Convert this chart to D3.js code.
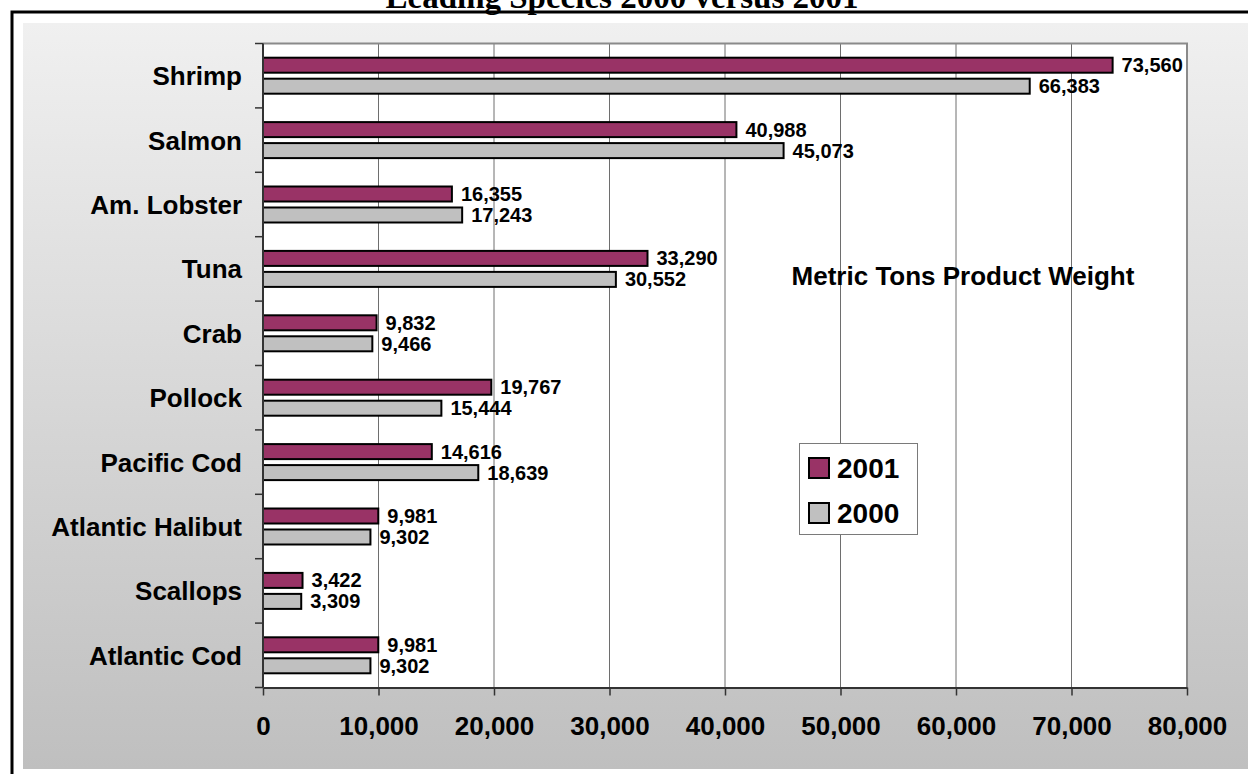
<!DOCTYPE html>
<html>
<head>
<meta charset="utf-8">
<script src="https://cdn.jsdelivr.net/npm/d3@7"></script>
<style>
  html, body { margin: 0; padding: 0; background: #ffffff; }
  svg { display: block; }
</style>
</head>
<body>
<svg id="chart" width="1248" height="774"></svg>
<script>
const categories = ["Shrimp", "Salmon", "Am. Lobster", "Tuna", "Crab", "Pollock", "Pacific Cod", "Atlantic Halibut", "Scallops", "Atlantic Cod"];
const series = ["2001", "2000"];
const values2001 = [73560, 40988, 16355, 33290, 9832, 19767, 14616, 9981, 3422, 9981];
const values2000 = [66383, 45073, 17243, 30552, 9466, 15444, 18639, 9302, 3309, 9302];
const xTicks = [0, 10000, 20000, 30000, 40000, 50000, 60000, 70000, 80000];
const titleText = "Leading Species 2000 versus 2001";
const noteText = "Metric Tons Product Weight";
const colors = { "2001": "#993366", "2000": "#c0c0c0" };

const svg = d3.select("#chart");
const sans = "'Liberation Sans', Arial, sans-serif";

// background gradient
const defs = svg.append("defs");
const grad = defs.append("linearGradient").attr("id", "bg").attr("x1", 0).attr("y1", 0).attr("x2", 0).attr("y2", 1);
grad.append("stop").attr("offset", "0%").attr("stop-color", "#f0f0f0");
grad.append("stop").attr("offset", "100%").attr("stop-color", "#bfbfbf");

// outer frame
svg.append("rect").attr("x", 12).attr("y", 12).attr("width", 1260).attr("height", 800)
  .attr("fill", "#ffffff").attr("stroke", "#000").attr("stroke-width", 3);
svg.append("rect").attr("x", 23).attr("y", 23).attr("width", 1240).attr("height", 746)
  .attr("fill", "url(#bg)");

// title (mostly cut off at the top, as in the reference)
svg.append("text").attr("x", 622).attr("y", 8).attr("text-anchor", "middle")
  .attr("font-family", "'Liberation Serif', 'Times New Roman', serif")
  .attr("font-weight", "bold").attr("font-size", 33).text(titleText);

const plot = { left: 263, right: 1187, top: 43.5, bottom: 687.5 };

const x = d3.scaleLinear().domain([0, 80000]).range([plot.left, plot.right]);
const y = d3.scaleBand().domain(categories).range([plot.top, plot.bottom])
  .paddingInner(0.41).paddingOuter(0.205);
const ySub = d3.scaleBand().domain(series).range([0, y.bandwidth()]).paddingInner(0.19);

// plot area
svg.append("rect").attr("x", plot.left).attr("y", plot.top)
  .attr("width", plot.right - plot.left).attr("height", plot.bottom - plot.top)
  .attr("fill", "#ffffff");

// gridlines
svg.append("g").selectAll("line").data(xTicks.slice(1, -1)).join("line")
  .attr("x1", d => x(d)).attr("x2", d => x(d))
  .attr("y1", plot.top).attr("y2", plot.bottom)
  .attr("stroke", "#6e6e6e").attr("stroke-width", 1);

// frame top/right (gray)
svg.append("path")
  .attr("d", `M${plot.left},${plot.top}H${plot.right}V${plot.bottom}`)
  .attr("fill", "none").attr("stroke", "#8a8a8a").attr("stroke-width", 2);

// bars
const rows = categories.map((c, i) => ({ cat: c, "2001": values2001[i], "2000": values2000[i] }));
const g = svg.append("g");
rows.forEach(r => {
  series.forEach(s => {
    const by = y(r.cat) + ySub(s);
    g.append("rect")
      .attr("x", x(0)).attr("y", by + 1)
      .attr("width", x(r[s]) - x(0)).attr("height", ySub.bandwidth() - 2)
      .attr("fill", colors[s]).attr("stroke", "#000").attr("stroke-width", 2);
    g.append("text")
      .attr("x", x(r[s]) + 9).attr("y", by + ySub.bandwidth() / 2 + 7)
      .attr("font-family", sans).attr("font-weight", "bold").attr("font-size", 20)
      .attr("fill", "#000").text(d3.format(",")(r[s]));
  });
});

// x axis
const xAxis = svg.append("g").attr("transform", `translate(0,${plot.bottom})`)
  .call(d3.axisBottom(x).tickValues(xTicks).tickFormat(d3.format(",")).tickSize(8).tickSizeOuter(0));
xAxis.select(".domain").attr("stroke", "#333").attr("stroke-width", 2);
xAxis.selectAll(".tick line").attr("stroke", "#333").attr("stroke-width", 1.5);
xAxis.selectAll(".tick text").attr("font-family", sans).attr("font-weight", "bold")
  .attr("font-size", 26).attr("fill", "#000").attr("dy", null).attr("y", 47);

// y axis line & ticks at category boundaries
const bounds = categories.map(c => y(c) - y.step() * y.paddingOuter()).concat([plot.bottom]);
svg.append("line").attr("x1", plot.left).attr("x2", plot.left)
  .attr("y1", plot.top).attr("y2", plot.bottom).attr("stroke", "#333").attr("stroke-width", 2);
svg.append("g").selectAll("line").data(bounds).join("line")
  .attr("x1", plot.left - 8).attr("x2", plot.left).attr("y1", d => d).attr("y2", d => d)
  .attr("stroke", "#333").attr("stroke-width", 1.5);

// category labels
svg.append("g").selectAll("text").data(categories).join("text")
  .attr("x", 242).attr("y", d => y(d) + y.bandwidth() / 2 + 9.5)
  .attr("text-anchor", "end").attr("font-family", sans).attr("font-weight", "bold")
  .attr("font-size", 26).attr("fill", "#000").text(d => d);

// note
svg.append("text").attr("x", 963).attr("y", 285).attr("text-anchor", "middle")
  .attr("font-family", sans).attr("font-weight", "bold").attr("font-size", 26)
  .attr("fill", "#000").text(noteText);

// legend
const lg = svg.append("g");
lg.append("rect").attr("x", 799.5).attr("y", 443.5).attr("width", 118).attr("height", 91)
  .attr("fill", "#fff").attr("stroke", "#7a7a7a").attr("stroke-width", 1);
series.forEach((s, i) => {
  const cy = 468 + i * 45;
  lg.append("rect").attr("x", 809).attr("y", cy - 10).attr("width", 20).attr("height", 20)
    .attr("fill", colors[s]).attr("stroke", "#000").attr("stroke-width", 2);
  lg.append("text").attr("x", 837).attr("y", cy + 10)
    .attr("font-family", sans).attr("font-weight", "bold").attr("font-size", 28)
    .attr("fill", "#000").text(s);
});
</script>
</body>
</html>
